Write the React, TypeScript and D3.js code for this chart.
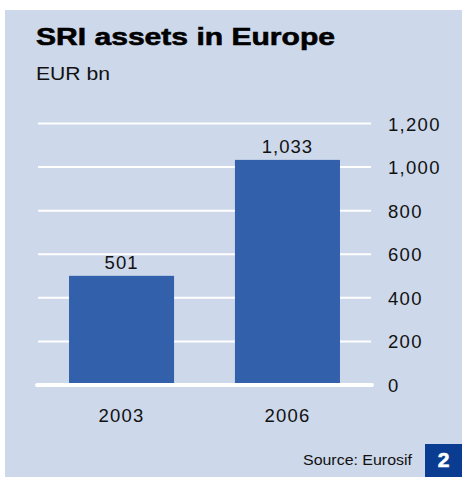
import React from "react";
import * as d3 from "d3";

const categories = ["2003", "2006"];
const values = [501, 1033];
const valueLabels = ["501", "1,033"];
const tickValues = [0, 200, 400, 600, 800, 1000, 1200];

const W = 462;
const H = 477;
const BG = "#cdd8ea";
const BAR = "#3360ab";
const FONT = "'Liberation Sans', Arial, Helvetica, sans-serif";

export default function App() {
  const y = d3.scaleLinear().domain([0, 1200]).range([385, 123.5]);
  const x = d3
    .scaleBand<string>()
    .domain(categories)
    .range([38, 371])
    .paddingInner(0.367)
    .paddingOuter(0.187);
  const fmt = d3.format(",");

  return (
    <svg
      width={W}
      height={H}
      style={{ position: "absolute", left: 0, top: 0, display: "block" }}
    >
      <rect x={0} y={0} width={W} height={H} fill="#ffffff" />
      <rect x={5} y={10} width={W - 5} height={H - 10} fill={BG} />
      <text
        x={36}
        y={45}
        fontFamily={FONT}
        fontWeight={900}
        fontSize={24.5}
        fill="#000"
        textLength={299}
        lengthAdjust="spacingAndGlyphs"
        stroke="#000"
        strokeWidth={0.6}
      >
        SRI assets in Europe
      </text>
      <text x={36} y={80} fontFamily={FONT} fontSize={18} fill="#111" textLength={74} lengthAdjust="spacingAndGlyphs">
        EUR bn
      </text>

      {tickValues
        .filter((t) => t !== 0)
        .map((t) => (
          <line key={"g" + t} x1={38} x2={371} y1={y(t)} y2={y(t)} stroke="#ffffff" strokeWidth={2} />
        ))}

      {categories.map((c, i) => (
        <rect
          key={"b" + c}
          x={x(c)}
          y={y(values[i])}
          width={x.bandwidth()}
          height={y(0) - 2 - y(values[i])}
          fill={BAR}
        />
      ))}

      <line x1={37} x2={372} y1={y(0)} y2={y(0)} stroke="#ffffff" strokeWidth={4} strokeLinecap="round" />

      {tickValues.map((t) => (
        <text
          key={"t" + t}
          x={388}
          y={y(t) + 7}
          fontFamily={FONT}
          fontSize={18.5}
          letterSpacing={1.3}
          fill="#111"
        >
          {fmt(t)}
        </text>
      ))}

      {categories.map((c, i) => (
        <text
          key={"v" + c}
          x={(x(c) as number) + x.bandwidth() / 2}
          y={y(values[i]) - 7}
          textAnchor="middle"
          fontFamily={FONT}
          fontSize={18.5}
          letterSpacing={1}
          fill="#111"
        >
          {valueLabels[i]}
        </text>
      ))}

      {categories.map((c) => (
        <text
          key={"c" + c}
          x={(x(c) as number) + x.bandwidth() / 2}
          y={422}
          textAnchor="middle"
          fontFamily={FONT}
          fontSize={18.5}
          letterSpacing={1.2}
          fill="#111"
        >
          {c}
        </text>
      ))}

      <text x={303} y={465} fontFamily={FONT} fontSize={14.5} fill="#111" textLength={109} lengthAdjust="spacingAndGlyphs">
        Source: Eurosif
      </text>
      <rect x={425} y={444} width={W - 425} height={H - 444} fill="#0a3d91" />
      <text
        x={443.5}
        y={467}
        textAnchor="middle"
        fontFamily={FONT}
        fontWeight={700}
        fontSize={21}
        fill="#ffffff"
        stroke="#ffffff"
        strokeWidth={0.6}
      >
        2
      </text>
    </svg>
  );
}
